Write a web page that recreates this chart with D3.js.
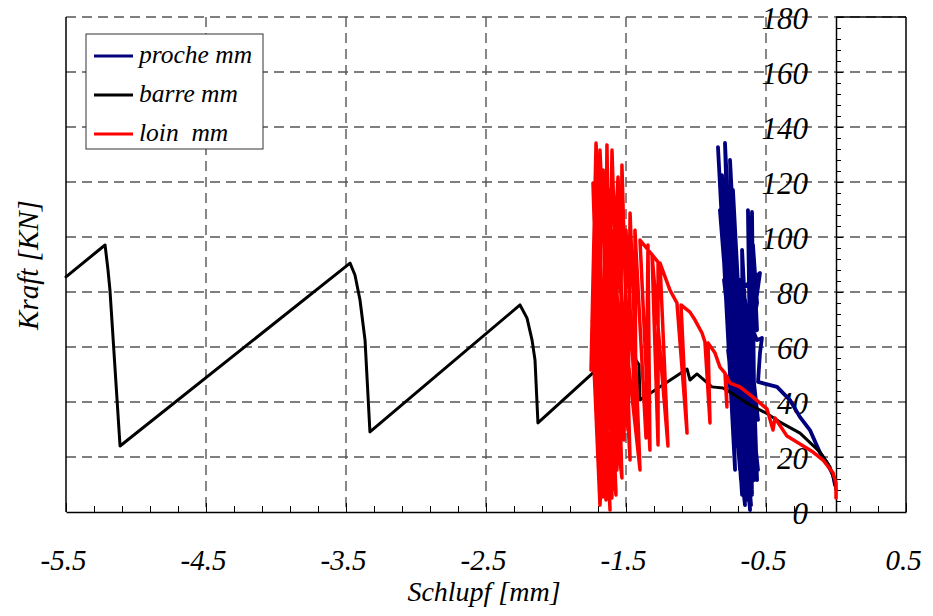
<!DOCTYPE html>
<html><head><meta charset="utf-8">
<script src="https://cdn.jsdelivr.net/npm/d3@7"></script>
<style>body{margin:0;background:#fff}
svg text{font-family:"Liberation Serif","Times New Roman","DejaVu Serif",serif !important;font-style:italic;}</style>
</head><body><svg id="c" width="933" height="616"></svg>
<script>
const xTickValues = [-5.5, -4.5, -3.5, -2.5, -1.5, -0.5, 0.5];
const xTickLabels = ["-5.5", "-4.5", "-3.5", "-2.5", "-1.5", "-0.5", "0.5"];
const yTickValues = [0, 20, 40, 60, 80, 100, 120, 140, 160, 180];
const seriesNames = ["proche mm", "barre mm", "loin  mm"];
const seriesColors = ["#00007f", "#000000", "#ff0000"];
const xTitle = "Schlupf [mm]";
const yTitle = "Kraft [KN]";

const barreData = [
  [-5.5, 85.5], [-5.221, 97.1], [-5.2, 88], [-5.186, 80.7], [-5.114, 24],
  [-3.471, 90.5], [-3.436, 86.2], [-3.4, 77.1], [-3.364, 62.5], [-3.329, 29.1],
  [-2.257, 75.3], [-2.207, 70.5], [-2.171, 62.5], [-2.15, 55.3], [-2.129, 32.4],
  [-1.5, 61.5], [-1.457, 60.7], [-1.429, 55.3], [-1.407, 53.5], [-1.4, 40.7],
  [-1.064, 52], [-1.043, 48], [-0.993, 50.2], [-0.886, 45.5], [-0.807, 45.1],
  [-0.757, 43.6], [-0.614, 38.9], [-0.5, 36], [-0.4, 32.7], [-0.257, 28.7],
  [-0.114, 21.8], [-0.043, 16.4], [-0.007, 10.5], [0, 8]
];

const loinData = [
  [-1.75, 51.6], [-1.714, 134.2], [-1.614, 0.7], [-1.736, 119.6], [-1.664, 5.5],
  [-1.636, 133.5], [-1.6, 5.1], [-1.729, 82.5], [-1.671, 6.2], [-1.686, 131.6],
  [-1.579, 8], [-1.721, 113.5], [-1.643, 4.4], [-1.6, 131.6], [-1.529, 12.4],
  [-1.707, 91.6], [-1.629, 11.6], [-1.664, 124.4], [-1.571, 6.2], [-1.743, 69.8],
  [-1.686, 2.5], [-1.557, 121.8], [-1.507, 35.3], [-1.657, 113.5], [-1.564, 15.3],
  [-1.621, 117.1], [-1.543, 18.9], [-1.529, 126.2], [-1.471, 18.9], [-1.571, 113.5],
  [-1.486, 29.8], [-1.471, 108.7], [-1.4, 15.3], [-1.586, 102.5], [-1.514, 26.2],
  [-1.5, 102.5], [-1.429, 33.5], [-1.436, 102.5], [-1.357, 26.9], [-1.343, 97.1],
  [-1.329, 22.5], [-1.4, 98.9], [-1.271, 90.9], [-1.271, 24.4], [-1.314, 93.5],
  [-1.2, 24], [-1.257, 90.5], [-1.186, 80.7], [-1.136, 76], [-1.064, 28.7],
  [-1.107, 75.3], [-1.043, 72.7], [-1.007, 69.8], [-0.957, 65.1], [-0.936, 61.8],
  [-0.9, 32.4], [-0.914, 61.5], [-0.864, 57.8], [-0.829, 52.7], [-0.793, 50.5],
  [-0.779, 38.2], [-0.786, 49.8], [-0.757, 46.9], [-0.686, 45.5], [-0.593, 41.8],
  [-0.493, 37.5], [-0.45, 29.8], [-0.436, 34.2], [-0.35, 27.6], [-0.257, 24.7],
  [-0.164, 21.8], [-0.093, 18.9], [-0.021, 14.2], [0, 10.5], [0, 5.1]
];

const procheData = [
  [-0.736, 29.8], [-0.843, 132.7], [-0.721, 15.3], [-0.793, 134.2], [-0.671, 6.2],
  [-0.814, 122.5], [-0.686, 18.9], [-0.757, 128], [-0.629, 4.4], [-0.829, 109.8],
  [-0.7, 26.2], [-0.736, 117.1], [-0.614, 0.7], [-0.779, 95.3], [-0.679, 11.6],
  [-0.75, 113.5], [-0.643, 15.3], [-0.793, 98.9], [-0.65, 15.3], [-0.714, 69.8],
  [-0.6, 6.2], [-0.629, 109.8], [-0.564, 11.6], [-0.686, 84.4], [-0.579, 22.5],
  [-0.757, 66.2], [-0.636, 8], [-0.7, 58.9], [-0.586, 11.6], [-0.786, 84.4],
  [-0.686, 15.3], [-0.664, 66.2], [-0.557, 15.3], [-0.736, 88], [-0.607, 2.5],
  [-0.8, 84.4], [-0.664, 22.5], [-0.736, 55.3], [-0.621, 4.4], [-0.6, 109.1],
  [-0.579, 15.3], [-0.65, 77.1], [-0.557, 33.5], [-0.764, 48], [-0.657, 8],
  [-0.671, 95.3], [-0.614, 40.7], [-0.757, 77.1], [-0.543, 86.9], [-0.6, 66.2],
  [-0.564, 76], [-0.593, 97.1], [-0.564, 66.2], [-0.721, 62.5], [-0.65, 2.5],
  [-0.771, 58.9], [-0.6, 8], [-0.686, 77.1], [-0.564, 62.5], [-0.529, 63.3],
  [-0.543, 57.8], [-0.557, 47.3], [-0.421, 45.5], [-0.329, 40.7], [-0.257, 34.5],
  [-0.186, 29.8], [-0.114, 21.5], [-0.064, 17.8], [-0.021, 13.5], [-0.007, 9.8]
];

const L = 66, R = 906, T = 17, B = 512;
const svg = d3.select("#c");
const x = d3.scaleLinear().domain([-5.5, 0.5]).range([L, R]);
const y = d3.scaleLinear().domain([0, 180]).range([B, T]);
const gridColor = "#555";
const dash = "10,6";
const FONT = "Liberation Serif, Times New Roman, DejaVu Serif, serif";

// grid
svg.append("g").selectAll("line").data(yTickValues.filter(v => v > 0)).join("line")
  .attr("x1", L).attr("x2", R).attr("y1", d => y(d)).attr("y2", d => y(d))
  .attr("stroke", gridColor).attr("stroke-width", 1.4).attr("stroke-dasharray", dash);
svg.append("g").selectAll("line").data(xTickValues.filter(v => v > -5.5 && v < 0)).join("line")
  .attr("x1", d => x(d)).attr("x2", d => x(d)).attr("y1", T).attr("y2", B)
  .attr("stroke", gridColor).attr("stroke-width", 1.4).attr("stroke-dasharray", dash);

// frame
svg.append("line").attr("x1", L).attr("x2", L).attr("y1", T).attr("y2", B).attr("stroke", "#000").attr("stroke-width", 1.5);
svg.append("line").attr("x1", R).attr("x2", R).attr("y1", T).attr("y2", B).attr("stroke", "#000").attr("stroke-width", 1.5);
svg.append("line").attr("x1", x(0)).attr("x2", R).attr("y1", T).attr("y2", T).attr("stroke", "#000").attr("stroke-width", 1.5);

// x axis
const minorX = d3.range(0, 31).map(i => -5.5 + i * 0.2);
const gxMinor = svg.append("g").attr("transform", `translate(0,${B})`)
  .call(d3.axisBottom(x).tickValues(minorX).tickSizeInner(-6).tickSizeOuter(0).tickFormat(""));
gxMinor.select(".domain").remove();
const gx = svg.append("g").attr("transform", `translate(0,${B})`)
  .call(d3.axisBottom(x).tickValues(xTickValues).tickSizeInner(-9).tickSizeOuter(0)
    .tickPadding(37).tickFormat((d, i) => xTickLabels[i]));
gx.attr("font-family", FONT);
gx.select(".domain").attr("stroke-width", 1.5);
gx.selectAll(".tick text").attr("font-size", 29).attr("fill", "#000")
  .attr("font-style", "italic").attr("dx", -3);

// y axis at x=0
const minorY = d3.range(0, 46).map(i => i * 4);
svg.append("g").attr("transform", `translate(${x(0)},0)`)
  .call(d3.axisLeft(y).tickValues(minorY).tickSizeInner(-5).tickSizeOuter(0).tickFormat(""))
  .select(".domain").remove();
const gy = svg.append("g").attr("transform", `translate(${x(0)},0)`)
  .call(d3.axisLeft(y).tickValues(yTickValues).tickSizeInner(-7).tickSizeOuter(0).tickPadding(28));
gy.attr("font-family", FONT);
gy.select(".domain").attr("stroke-width", 1.5);
gy.selectAll(".tick text").attr("font-size", 31).attr("fill", "#000")
  .attr("font-style", "italic").attr("dy", "0.36em");

// series
const line = d3.line().x(d => x(d[0])).y(d => y(d[1]));
const allData = [procheData, barreData, loinData];
const widths = [3.8, 3, 3.5];
allData.forEach((data, i) => {
  svg.append("path").datum(data).attr("d", line).attr("fill", "none")
    .attr("stroke", seriesColors[i]).attr("stroke-width", widths[i])
    .attr("stroke-linejoin", "round").attr("stroke-linecap", "round");
});

// legend
const lg = svg.append("g").attr("transform", "translate(86,34)");
lg.append("rect").attr("width", 177).attr("height", 115).attr("fill", "#fff")
  .attr("stroke", "#333").attr("stroke-width", 1);
seriesNames.forEach((n, i) => {
  const yy = 22 + i * 39;
  lg.append("line").attr("x1", 8).attr("x2", 47).attr("y1", yy).attr("y2", yy)
    .attr("stroke", seriesColors[i]).attr("stroke-width", 3);
  lg.append("text").attr("x", 53).attr("y", yy + 7).attr("font-size", 25.5)
    .attr("font-family", FONT).attr("font-style", "italic")
    .attr("xml:space", "preserve").style("white-space", "pre").text(n);
});

// titles
svg.append("text").attr("x", 484).attr("y", 601).attr("text-anchor", "middle")
  .attr("font-family", FONT).attr("font-style", "italic")
  .attr("font-size", 28).text(xTitle);
svg.append("text").attr("transform", "translate(38,265) rotate(-90)").attr("text-anchor", "middle")
  .attr("font-family", FONT).attr("font-style", "italic")
  .attr("font-size", 29).text(yTitle);
</script>
</body></html>
